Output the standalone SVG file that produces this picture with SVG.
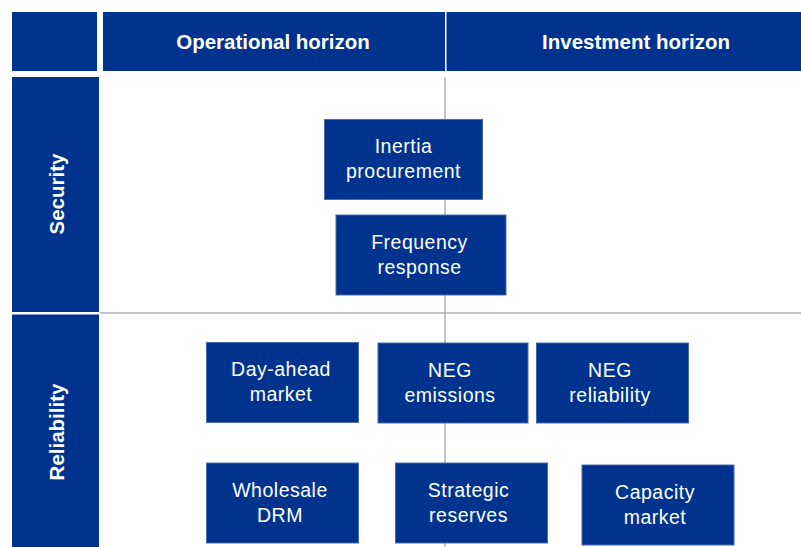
<svg xmlns="http://www.w3.org/2000/svg" width="801" height="547" viewBox="0 0 801 547">
<style>
.hdr{fill:#00338d}
.box{fill:#00338d;stroke:#4a6aae;stroke-width:1}
.ht{font-family:"Liberation Sans",Arial,sans-serif;font-weight:bold;font-size:20.5px;fill:#ffffff;text-anchor:middle}
.bt{font-family:"Liberation Sans",Arial,sans-serif;font-size:19.5px;letter-spacing:0.5px;fill:#ffffff;text-anchor:middle}
.grid{stroke:#b0b0b0;stroke-width:1.5;fill:none}
</style>
<rect width="801" height="547" fill="#ffffff"/>
<g id="connectors">
<line class="grid" x1="445" y1="77" x2="445" y2="547"/>
<line class="grid" x1="100" y1="313" x2="801" y2="313"/>
</g>
<g id="corner"><rect class="hdr" x="12" y="12" width="85" height="59"/></g>
<g id="operational-horizon"><rect class="hdr" x="103" y="12" width="342" height="59"/><text class="ht" x="273" y="49">Operational horizon</text></g>
<g id="investment-horizon"><rect class="hdr" x="446.5" y="12" width="354.5" height="59"/><text class="ht" x="636" y="49">Investment horizon</text></g>
<g id="security"><rect class="hdr" x="12" y="77" width="87" height="235"/><text class="ht" transform="translate(64,194) rotate(-90)">Security</text></g>
<g id="reliability"><rect class="hdr" x="12" y="314.5" width="87" height="232.5"/><text class="ht" transform="translate(64,432) rotate(-90)">Reliability</text></g>
<g id="inertia-procurement"><rect class="box" x="324.5" y="119.5" width="158" height="80"/><text class="bt" x="403.5" y="153">Inertia</text><text class="bt" x="403.5" y="178">procurement</text></g>
<g id="frequency-response"><rect class="box" x="336" y="215" width="170" height="80"/><text class="bt" x="419.5" y="248.5">Frequency</text><text class="bt" x="419.5" y="273.5">response</text></g>
<g id="day-ahead-market"><rect class="box" x="206.5" y="342.5" width="152" height="80"/><text class="bt" x="281" y="376">Day-ahead</text><text class="bt" x="281" y="401">market</text></g>
<g id="neg-emissions"><rect class="box" x="378" y="343" width="150" height="80"/><text class="bt" x="450" y="376.5">NEG</text><text class="bt" x="450" y="401.5">emissions</text></g>
<g id="neg-reliability"><rect class="box" x="536.5" y="343" width="152" height="80"/><text class="bt" x="610" y="376.5">NEG</text><text class="bt" x="610" y="401.5">reliability</text></g>
<g id="wholesale-drm"><rect class="box" x="206.5" y="463" width="152" height="80"/><text class="bt" x="280" y="496.5">Wholesale</text><text class="bt" x="280" y="521.5">DRM</text></g>
<g id="strategic-reserves"><rect class="box" x="395.5" y="463" width="152" height="80"/><text class="bt" x="468.5" y="496.5">Strategic</text><text class="bt" x="468.5" y="521.5">reserves</text></g>
<g id="capacity-market"><rect class="box" x="582" y="465" width="152" height="80"/><text class="bt" x="655" y="498.5">Capacity</text><text class="bt" x="655" y="523.5">market</text></g>
</svg>
